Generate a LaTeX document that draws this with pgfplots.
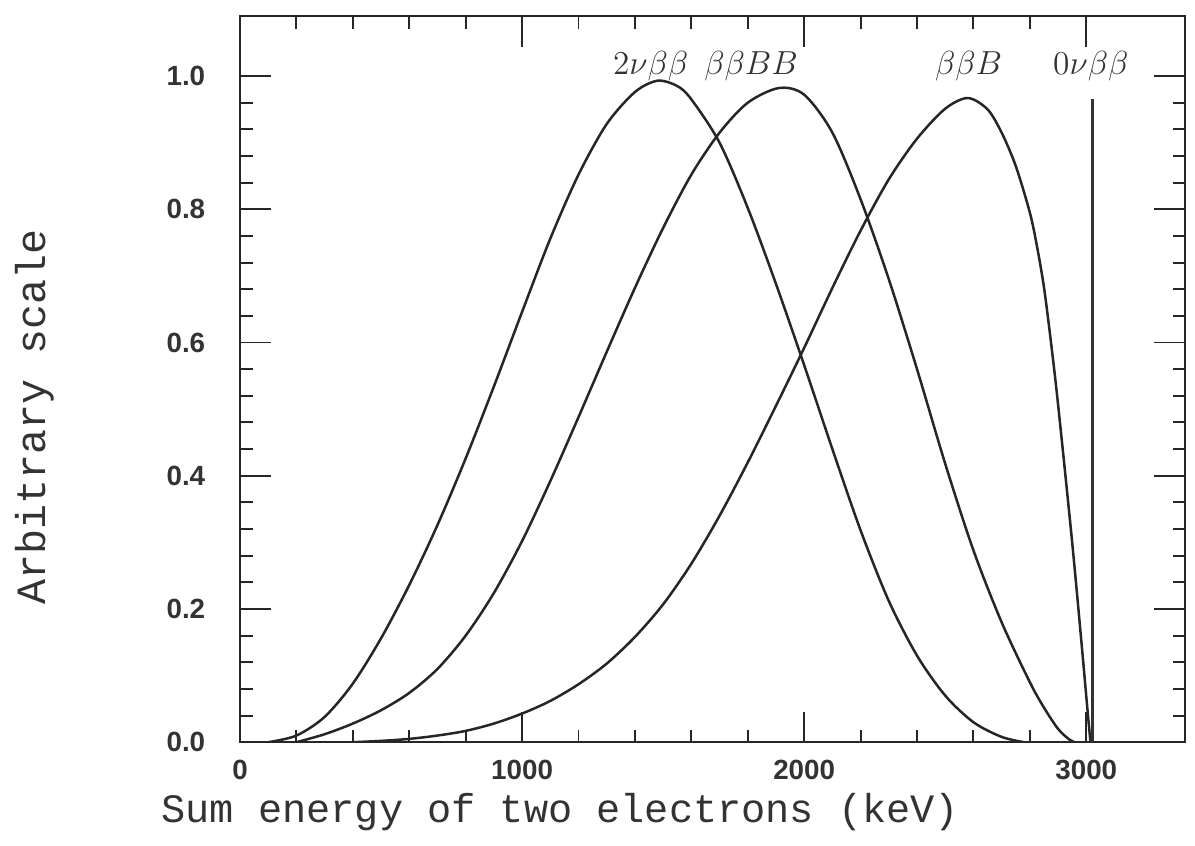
\documentclass[border=0pt]{standalone}
\usepackage{pgfplots}
\pgfplotsset{compat=1.18}
\usepackage{fontspec}
\setmainfont{Liberation Serif}
\newfontfamily\labelfont{Liberation Mono}
\newfontfamily\tickfont{Liberation Sans}

% Summed two-electron energy spectra (arbitrary normalisation)
\pgfplotstableread{
x y
100 0.000
200 0.010
300 0.038
400 0.088
500 0.156
600 0.236
700 0.326
800 0.426
900 0.534
1000 0.646
1100 0.756
1200 0.852
1300 0.928
1400 0.976
1480 0.993
1550 0.985
1600 0.965
1700 0.900
1800 0.802
1900 0.688
2000 0.566
2100 0.440
2200 0.318
2300 0.212
2400 0.130
2500 0.070
2600 0.030
2700 0.008
2780 0.000
}\twonu

\pgfplotstableread{
x y
200 0.000
300 0.012
400 0.028
500 0.048
600 0.074
700 0.110
800 0.160
900 0.224
1000 0.302
1100 0.392
1200 0.488
1300 0.586
1400 0.682
1500 0.772
1600 0.852
1700 0.915
1800 0.960
1910 0.982
2000 0.972
2100 0.915
2200 0.815
2300 0.695
2400 0.560
2500 0.418
2600 0.288
2700 0.180
2800 0.090
2850 0.052
2900 0.020
2940 0.004
2960 0.000
}\majtwo

\pgfplotstableread{
x y
400 0.000
500 0.002
600 0.005
700 0.010
800 0.017
900 0.028
1000 0.043
1100 0.062
1200 0.087
1300 0.118
1400 0.158
1500 0.207
1600 0.268
1700 0.340
1800 0.420
1900 0.505
2000 0.592
2100 0.682
2200 0.768
2300 0.845
2400 0.906
2500 0.951
2580 0.967
2650 0.950
2700 0.915
2750 0.865
2800 0.795
2825 0.745
2850 0.683
2875 0.600
2900 0.507
2950 0.300
2985 0.140
3005 0.045
3015 0.000
}\majone

\pgfplotstableread{
x y
3022 0
3022 0.965
}\zeronu

\begin{document}
\begin{tikzpicture}
\begin{axis}[
  name=ax,
  scale only axis,
  width=340.2pt, height=261.4pt,
  xmin=0, xmax=3350,
  ymin=0, ymax=1.09,
  axis line style={black!85, line width=0.8pt},
  tick style={black!85, line width=0.7pt},
  tick align=inside,
  xtick={0,1000,2000,3000},
  ytick={0,0.2,0.4,0.6,0.8,1.0},
  minor x tick num=4,
  minor y tick num=4,
  major tick length=11pt,
  minor tick length=4.5pt,
  scaled ticks=false,
  /pgf/number format/assume math mode=true,
  xticklabel style={font=\fontsize{10}{12}\selectfont\tickfont\bfseries, text=black!80, yshift=-3pt,
    /pgf/number format/.cd, fixed, 1000 sep={}},
  yticklabel style={font=\fontsize{10}{12}\selectfont\tickfont\bfseries, text=black!80, xshift=-9pt,
    /pgf/number format/.cd, fixed, fixed zerofill, precision=1},
  xlabel={Sum energy of two electrons (keV)},
  ylabel={Arbitrary scale},
  xlabel style={at={(axis description cs:0.339,-0.110)}, anchor=base,
    font=\fontsize{14.5}{17}\selectfont\labelfont, text=black!80},
  ylabel style={at={(axis description cs:-0.217,0.448)}, anchor=center,
    font=\fontsize{15}{18}\selectfont\labelfont, text=black!80},
]
\addplot[black!85, line width=0.9pt, smooth, tension=0.5] table {\twonu};
\addplot[black!85, line width=0.9pt, smooth, tension=0.5] table {\majtwo};
\addplot[black!85, line width=0.9pt, smooth, tension=0.5] table {\majone};
\addplot[black!80, line width=0.8pt, sharp plot] table {\zeronu};

\node[font=\fontsize{12}{14}\selectfont, text=black!80] at (axis cs:1456,1.015) {$2\nu\beta\beta$};
\node[font=\fontsize{12}{14}\selectfont, text=black!80] at (axis cs:1812,1.015) {$\beta\beta BB$};
\node[font=\fontsize{12}{14}\selectfont, text=black!80] at (axis cs:2583,1.015) {$\beta\beta B$};
\node[font=\fontsize{12}{14}\selectfont, text=black!80] at (axis cs:3016,1.015) {$0\nu\beta\beta$};
\end{axis}
\pgfresetboundingbox
\path ([shift={(-86.4pt,-37.1pt)}]ax.south west) rectangle ([shift={(3.6pt,5.8pt)}]ax.north east);
\end{tikzpicture}
\end{document}
